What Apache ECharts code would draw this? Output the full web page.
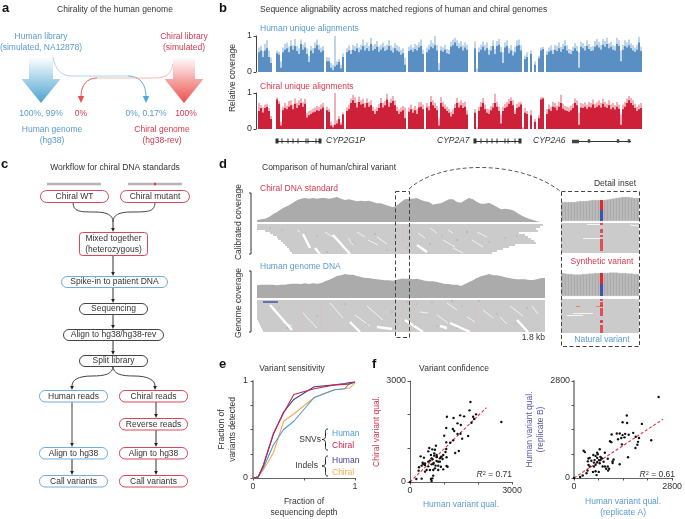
<!DOCTYPE html>
<html><head><meta charset="utf-8">
<style>html,body{margin:0;padding:0;background:#fff}#c{width:685px;height:519px}</style>
<script src="https://cdn.jsdelivr.net/npm/echarts@6/dist/echarts.min.js"></script>
</head><body><div id="c"></div>
<script>
// ---------- Panel b: coverage tracks (192 bins)
const humanDark=[.55,.6,.42,.6,.66,.42,.25, 0,0, .52,.48,.12,.55,.62,.66,.55,.72,.62,.72,.58,.5,.78,.62,.68,.5,.28,.6,.52,.66,.74,.62,.55,.6, 0, .3,.3,.12,.05,.15,.2,.28,.1,.42, 0, .55,.6,.5,.62,.58,.66,.55,.62,.72,.6,.66,.58,.78,.6,.64,.7,.56,.62,.68,.58,.62,.72,.6,.54,.66,.6,.56,.48,.52, .2,0, .58,.62,.56,.64,.6,.68,.72,.5, 0, .55,.62,.7,.66,.74,.6, .05, .6,.56,.62,.52,.5,.7,.74,.82,.72,.66,.7,.6,.68,.62, 0,0,0, .65,0, .55,.62,.7,.6,.66,.48,.6,.72,.5,.72,.76,.55,.25,.68,.72,.52,.6,.46,.55,.72,.74,.6, 0, .36,.42, 0,.5,0,.2,0,.38,.6,.64,0, .48,.56,.6,.5,.62,.58,.66,.56,.64,.72,.6,.52,.5,.58,.66,.58, .12, .7,.66,.6,.72,.64,.58,.6,.7,.74,.68,.62,.76,.7,.78,.66,.7,.62,.6,.78,.72,.3,.62,.72,.68,.74,.66,.6,.56,.62,.82,.58];
const humanLight=[.68,.72,.58,.78,.88,.6,.4, 0,0, .6,.56,.3,.68,.78,.82,.7,.88,.74,.92,.72,.66,.9,.76,.82,.66,.45,.72,.66,.82,.9,.76,.68,.72, 0, .42,.4,.25,.2,1,.3,.36,.2,.52, 0, .66,.74,.62,.76,.72,.8,.68,.76,.9,.74,.82,.72,.95,.74,.78,.86,.7,.76,.82,.72,.76,.88,.74,.68,.8,.74,.7,.62,.66, .4,0, .7,.76,.68,.78,.74,.82,.9,.62, 0, .68,.76,.88,.8,1,.74, .25, .72,.68,.76,.64,.62,.84,.9,.95,.88,.8,.86,.74,.82,.76, 0,0,0, .85,.1, .68,.76,.85,.74,.82,.62,.72,.88,.64,.86,.92,.7,.55,.82,.88,.66,.74,.6,.7,.88,.9,.74, 0, .46,.55, 0,.6,0,.3,0,.45,.68,.7,0, .58,.68,.74,.62,.76,.72,.82,.7,.78,.88,.74,.64,.62,.7,.8,.72, .55, .84,.8,.72,.88,.78,.7,.72,.86,.92,.84,.76,.92,.86,.95,.8,.84,.74,.72,.95,.88,.6,.76,.88,.82,.9,.8,.74,.68,.76,.98,.7];
const chiralDark=[.5,.58,.46,.58,.62,.5,.28, 0,0, .82,.7,.1,.52,.58,.55,.62,.66,.55,.7,.58,.66,.72,.62,.7,.32,.38,.42,.46,.48,.52,.5,.55,.6, 0, .52,.48,.1,.05,.12,.15,.28,.12,.4, 0, .5,.55,.72,.8,.72,.6,.75,.68,.7,.6,.72,.62,.66,.5,.42,.5,.58,.72,.6,.66,.82,.62,.72,.78,.66,.5,.42,.48,.52, .3,0, .48,.55,.45,.52,.42,.6,.62,.55, 0, .6,.52,.75,.66,.58,.52, .1, .72,.62,.56,.5,.45,.35,.42,.58,.72,.6,.66,.58,.62,.4, 0,0,0, .45,0, .5,.62,.72,.55,.45,.42,.52,.6,.72,.62,.5,.15,.5,.58,.62,.7,.78,.66,.42,.58,.62,.68, 0, .45,.42, 0,.38,0,.2,0,.3,.82,.85,0, .42,.55,.5,.62,.6,.52,.62,.72,.56,.52,.5,.48,.52,.58,.72,.66, .12, .6,.58,.62,.56,.62,.6,.68,.58,.62,.66,.6,.7,.62,.58,.66,.55,.6,.54,.62,.56,.12,.55,.62,.72,.8,.72,.66,.58,.5,.55,.58];
const chiralLight=[.72,.66,.6,.68,.7,.58,.36, 0,0, .88,.78,.2,.62,.72,.65,.78,.8,.68,.85,.72,.8,.85,.74,.84,.45,.5,.52,.56,.6,.64,.62,.68,.72, 0, .62,.56,.2,.12,1,.24,.36,.18,.46, 0, .6,.68,.85,.95,.88,.74,.9,.8,.84,.72,.85,.75,.8,.62,.54,.6,.7,.86,.72,.78,.98,.75,.85,.92,.8,.62,.54,.6,.64, .6,0, .6,.68,.56,.64,.55,.74,.76,.68, 0, .72,.64,.92,.8,.72,.64, .3, .88,.76,.68,.62,.56,.48,.55,.7,.86,.74,.8,.72,.76,.52, 0,0,0, .55,.05, .62,.75,.86,.68,.56,.55,.64,.72,.98,.76,.62,.4,.62,.7,.75,.84,.88,.8,.52,.7,.74,.74, .05, .58,.5, 0,.52,0,.28,0,.38,.88,.88,0, .55,.68,.62,.76,.72,.65,.76,.95,.7,.64,.62,.6,.65,.7,.85,.8, .45, .72,.7,.74,.68,.75,.72,.82,.7,.74,.8,.72,.84,.75,.7,.8,.68,.72,.66,.75,.68,.4,.68,.75,.85,.92,.86,.8,.7,.62,.68,.72];
const geneSpines=[[19,63],[217,262],[314,373]];
const geneTicks=[24,30,35,40,48,50,58,223,229,234,239,247,250,257];
const geneArrows=[19,62,217,262];
const geneExons=[331,360,371];
const geneThick=[[314,321]];
// ---------- Panel d: coverage depth at 4-px steps, read piles
const covChiral=[5,8,10,15,23,30,38,45,50,58,65,70,72,70,72,70,72,72,70,72,75,70,66,68,65,62,64,62,64,60,56,56,52,48,44,50,60,68,70,70,72,66,62,60,52,55,56,62,68,68,60,58,65,72,68,60,55,55,58,52,45,38,40,38,35,28,20,14,10,6,2,0,0];
const covHuman=[38,40,40,40,40,38,40,40,42,43,43,42,44,42,44,43,44,50,55,60,66,68,72,70,70,66,63,60,60,58,56,55,53,53,52,55,58,58,58,56,58,55,52,50,50,48,45,42,42,40,40,36,42,48,53,60,65,68,72,68,68,66,62,60,58,56,56,56,54,54,56,60,60];
const pile1Starts=[0,0,0,8,13,16,20,21,24,26,28,30,32,33,35];
const pile1Ends=[286,283,279,281,262,268,271,274,277,279,258,252,246,240,235];
const pile2Starts=[0,0,0,0,0,0,0,0,0,0,1,2,3,4,5,6];
const pile2Ends=[288,288,288,288,288,288,288,288,288,288,288,288,288,288,288,288];
const pile1Thin=[[40,3,43,4],[68,4,76,6.5],[100,4,108,6.5],[111,8,121,10.5],[91,7,96,10.5],[120,6.5,130,10],[173,2,180,4.5],[186,8,198,11.5],[191,3,196,4.5],[220,4,230,6.5],[196,12,206,14.5],[215,8,226,11.5],[161,4.5,168,7]];
const pile1Thick=[[46,5,53,12],[58,12,63,15],[76,5.5,93,15],[160,10.5,170,14]];
const pile2Thin=[[45,6,60,14],[73,1.5,86,9],[98,7.5,113,13],[110,3,126,10],[26,11,35,13],[180,7.5,191,11.5],[163,6,171,6.5],[210,8.5,218,11],[243,8.5,250,12],[226,5,236,9],[190,1.5,200,5],[253,3,266,8],[275,3,281,7]];
const pile2Thick=[[13,2.5,35,15],[93,11,103,16],[120,13.5,135,14.5],[148,10,166,16],[193,11.5,213,16],[260,10,271,16],[183,13,190,14]];
const pile1Dots=[[25,3],[70,14],[13,2],[95,9],[118,5],[150,12],[185,6],[210,4],[232,9],[248,7],[173,10],[60,6],[130,13],[200,8],[260,6]];
const pile2Dots=[[22,4],[60,8],[88,2],[110,12],[135,6],[175,1],[205,3],[222,0.5],[240,7],[258,12],[270,4],[180,13],[200,14],[30,14],[150,1],[160,2],[195,0.5],[140,12]];
const pile2Bar=[[6,1,21,1]];
const variantsChiral=[145];
const variantsHuman=[45,63,145,157,219];
// ---------- Panel d inset
const insetCov1=[19,19,19,19,19,19.5,20,20,20,20.5,21,21,21,0,21,21.5,22,22.5,23,23.5,24,24,24,23.5,23,23];
const insetCov2=[23,22.5,22,22,21.5,21.5,21.5,22,22,22.5,22.5,23,23,0,23,23,23.5,23.5,23.5,23,23,23,22.5,22.5,22,22];
const insetRef1=[0,0,0,0,0,0,0,0,0,0,0,0,0,11,0,0,0,0,0,0,0,0,0,0,0,0];
const insetAlt1=[0,0,0,0,0,0,0,0,0,0,0,0,0,10,0,0,0,0,0,0,0,0,0,0,0,0];
const insetRef2=[0,0,0,0,0,0,0,0,0,0,0,0,0,12,0,0,0,0,0,0,0,0,0,0,0,0];
const insetAlt2=[0,0,0,0,0,0,0,0,0,0,0,0,0,11,0,0,0,0,0,0,0,0,0,0,0,0];
const inset1Reads=[0.5,3.5,4.5,6.5,8.5,9.5,10.5,11.5,12.5,13.5];
const inset2Reads=[0.5,2,3,3.5,5,6,7,8,11,11.5,13.5,14.5,15.5,16.5];
const inset1Gaps=[[26,0.8,39,0.8],[69,1,78,1.5],[22,7.5,39,7.5]];
const inset2Gaps=[[12,7,32,7],[6,8,22,8]];
const inset2Orange=[[15,3.5,19,3.5],[35,3.5,39,3.5]];
// ---------- Panel e
const depth=[0,.05,.1,.2,.3,.4,.6,.8,.9,.95,1];
const lineNavy=[0,.01,.12,.45,.68,.81,.94,.96,.975,.985,.99];
const lineRed=[0,.01,.13,.46,.67,.86,.92,.96,.965,.97,.99];
const lineBlue=[0,.01,.1,.34,.5,.585,.83,.91,.92,.98,.985];
const lineOrange=[0,.01,.08,.26,.585,.66,.83,.91,.92,.93,.98];
// ---------- Panel f
const qualChiral=[[0,0],[2687,1782],[1778,2376],[1750,2128],[1944,2010],[1475,1980],[1592,1950],[1085,1940],[1280,1900],[1856,1940],[1886,1871],[1807,1762],[1397,1742],[1495,1693],[1065,1604],[1260,1574],[1300,1515],[1397,1425],[1485,1435],[1710,1366],[1006,1376],[1534,1287],[1270,1237],[1065,1178],[1182,1168],[762,1079],[567,1010],[655,970],[537,910],[733,960],[313,762],[410,723],[1436,920],[1329,861],[1065,980],[1045,891],[977,802],[928,752],[879,703],[830,604],[782,802],[713,782],[635,703],[586,634],[537,604],[440,554],[391,535],[264,436],[254,337],[186,89],[342,99],[635,30],[684,188],[655,109],[616,89],[684,356],[586,356],[440,307],[488,356],[752,485],[830,485],[909,455],[977,376],[1075,475],[1104,455],[879,604],[957,683],[1075,733],[782,624],[694,564],[635,525],[537,465],[440,505],[371,574],[342,485],[733,406],[830,356],[655,683],[616,802],[713,851],[684,535],[791,742],[909,742]];
const qualRep=[[0,0],[2414,2338],[1506,1802],[1386,1608],[1515,1589],[1937,1562],[1074,1257],[1221,1284],[1304,1284],[1689,1303],[1386,1238],[1460,1275],[1561,1247],[1441,1173],[1258,1118],[1349,1155],[1028,1062],[1065,1035],[1368,970],[1763,1192],[1854,1155],[1827,1044],[1808,961],[1753,868],[2203,1090],[1542,600],[275,785],[312,748],[551,665],[661,730],[679,684],[734,832],[881,730],[413,564],[450,582],[615,638],[753,610],[799,564],[1129,536],[1102,480],[395,480],[496,499],[569,444],[661,453],[707,517],[845,471],[964,554],[881,333],[964,333],[918,268],[1001,268],[973,213],[1304,397],[1102,434],[817,333],[615,379],[569,333],[450,333],[413,379],[386,213],[358,139],[542,176],[615,194],[707,176],[643,83],[248,74],[174,28],[734,425],[771,582],[753,517],[661,582],[588,517]];
const fitChiral=[[0,0],[2250,2210]];
const fitRep=[[0,0],[2543,1700]];
// ---------- Text
const flowLabels=['Chiral WT','Chiral mutant','Mixed together\n(heterozygous)','Spike-in to patient DNA','Sequencing','Align to hg38/hg38-rev','Split library','Human reads','Chiral reads','Reverse reads','Align to hg38','Align to hg38','Call variants','Call variants'];

// ---------- Style constants and layout
const FF='"Liberation Sans",Arial,sans-serif', FS=8.5;
const BLUE='#5B9BCF', RED='#D4384F', DARK='#333', NAVY='#5A5AA8';
const grids=[],xAxes=[],yAxes=[],series=[],G=[];
function hiddenAxis(o){return Object.assign({show:false,type:'value'},o);}
function addGrid(l,t,w,h,x,y){grids.push({left:l,top:t,width:w,height:h,containLabel:false});
  const i=grids.length-1;xAxes.push(Object.assign({gridIndex:i},x));yAxes.push(Object.assign({gridIndex:i},y));return i;}
function addLines(i,segs,color,width,extra){series.push(Object.assign({type:'lines',coordinateSystem:'cartesian2d',xAxisIndex:i,yAxisIndex:i,polyline:false,silent:true,animation:false,
  lineStyle:Object.assign({color,width,opacity:1,curveness:0},extra||{}),effect:{show:false},
  data:segs.map(s=>({coords:[[s[0],s[1]],[s[2],s[3]]]}))}));}
function addScatter(i,pts,color,size,symbol){series.push({type:'scatter',xAxisIndex:i,yAxisIndex:i,data:pts,symbol:symbol||'circle',symbolSize:size,itemStyle:{color,opacity:1},silent:true,animation:false});}

// Panel b tracks
function track(top,dark,light,cDark,cLight){
  const cats=dark.map((_,k)=>k);
  const i=addGrid(258,top,384,36,{type:'category',data:cats,show:false,boundaryGap:true},{type:'value',min:0,max:1,interval:1,offset:2,
    axisLine:{show:true,lineStyle:{color:'#444',width:1}},axisTick:{show:true,length:2.5,lineStyle:{color:'#444'}},splitLine:{show:false},
    axisLabel:{fontSize:FS+.4,fontFamily:FF,color:DARK,margin:4}});
  series.push({type:'bar',xAxisIndex:i,yAxisIndex:i,data:light,barWidth:'100%',barGap:'-100%',itemStyle:{color:cLight},animation:false,silent:true});
  series.push({type:'bar',xAxisIndex:i,yAxisIndex:i,data:dark,barWidth:'100%',barGap:'-100%',itemStyle:{color:cDark},animation:false,silent:true});
}
track(36,humanDark,humanLight,'#5A8FC4','#BFD5EA');
track(93,chiralDark,chiralLight,'#CE2038','#EFB0B9');

// Gene models
const gi=addGrid(258,136,384,10,hiddenAxis({min:0,max:384}),hiddenAxis({min:0,max:1}));
addLines(gi,geneSpines.map(s=>[s[0],.5,s[1],.5]),'#333',1);
addLines(gi,geneThick.map(s=>[s[0],.5,s[1],.5]),'#444',3.4);
addScatter(gi,geneTicks.map(v=>[v,.5]),'#333',[1,5],'rect');
addScatter(gi,geneExons.map(v=>[v,.5]),'#444',[2.5,3.5],'rect');
addScatter(gi,geneArrows.map(v=>[v,.5]),'#333',[3,5],'rect');

// Panel d main
const xMain=hiddenAxis({min:0,max:288});
function covGrid(top,h,values,variants,maxv){
  const i=addGrid(257,top,288,h,xMain,hiddenAxis({min:0,max:maxv}));
  series.push({type:'line',xAxisIndex:i,yAxisIndex:i,data:values.map((v,k)=>[k*4,v]),showSymbol:false,lineStyle:{width:0},areaStyle:{color:'#ABABAB',opacity:1},animation:false,silent:true});
  variants.forEach(v=>{const d=values[Math.round(v/4)];
    addLines(i,[[v,0,v,d*.5]],'#7E8DC6',1,{opacity:.8});addLines(i,[[v,d*.5,v,d]],'#D9807A',1,{opacity:.8});});
}
function pileGrid(top,h,starts,ends,thin,thick,dots,variants){
  const i=addGrid(257,top,288,h,xMain,hiddenAxis({min:0,max:starts.length,inverse:true}));
  addLines(i,starts.map((s,k)=>[s,k+.5,ends[k],k+.5]),'#CBCBCB',2.2);
  addLines(i,thin,'#F2F2F2',1);addLines(i,thick,'#fff',2.4);
  variants.forEach(v=>addLines(i,[[v,0,v,starts.length]],'#E8B4AE',.9,{type:[2,2],opacity:.75}));
  addScatter(i,dots.filter((_,k)=>k%3==0),'#E2A06A',1.2,'rect');
  addScatter(i,dots.filter((_,k)=>k%3==1),'#8C95CC',1.2,'rect');
  addScatter(i,dots.filter((_,k)=>k%3==2),'#E09292',1.2,'rect');
  return i;
}
covGrid(197,25,covChiral,variantsChiral,75);
pileGrid(224,30,pile1Starts,pile1Ends,pile1Thin,pile1Thick,pile1Dots,variantsChiral);
covGrid(273,25,covHuman,variantsHuman,75);
const p2=pileGrid(300,32,pile2Starts,pile2Ends,pile2Thin,pile2Thick,pile2Dots,variantsHuman);
addLines(p2,pile2Bar,'#3D55AE',1.6);

// Inset
function insetCov(top,cov,ref,alt){
  const cats=cov.map((_,k)=>k);
  const i=addGrid(561,top,78,24,{type:'category',data:cats,show:false},hiddenAxis({min:0,max:24}));
  const mk=(d,c,w)=>series.push({type:'bar',stack:'s'+i,xAxisIndex:i,yAxisIndex:i,data:d,barWidth:'100%',itemStyle:{color:c,borderColor:'#C6C6C6',borderWidth:w},animation:false,silent:true});
  mk(cov,'#ABABAB',.3);mk(ref,'#3F55AD',0);mk(alt,'#E3272E',0);
}
function insetPile(top,h,rows,reds,gaps,extra){
  const i=addGrid(561,top,78,h,hiddenAxis({min:0,max:78}),hiddenAxis({min:0,max:rows,inverse:true}));
  addLines(i,[[0,rows/2,78,rows/2]],'#CBCBCB',h);
  addLines(i,gaps,'#F4F4F4',1.2);
  if(extra)addLines(i,extra,'#E2873E',1.2);
  addScatter(i,reds.map(r=>[40.5,r]),'#E3272E',[3,1.5],'rect');
}
insetCov(197,insetCov1,insetRef1,insetAlt1);
insetPile(223,30,15,inset1Reads,inset1Gaps);
insetCov(272,insetCov2,insetRef2,insetAlt2);
insetPile(299,34,17,inset2Reads,inset2Gaps,inset2Orange);

// Panel e / f axes
function plotAxis(name,interval,max,color,gap,thick,labelMargin){return {type:'value',min:0,max,interval,name,nameLocation:'middle',nameGap:gap,
  nameTextStyle:{fontSize:FS,fontFamily:FF,color,lineHeight:11},
  axisLine:{show:true,onZero:false,lineStyle:{color:thick?'#9A9A9A':'#666',width:thick?2:1}},axisTick:{show:true,length:2.5,lineStyle:{color:'#555'}},splitLine:{show:false},
  axisLabel:{fontSize:FS+.4,fontFamily:FF,color:DARK,margin:labelMargin,formatter:v=>(v===0||v===max)?String(v):'',showMinLabel:true,showMaxLabel:true,hideOverlap:false}};}
const ei=addGrid(253,381,102,102,plotAxis('Fraction of\nsequencing depth',.5,1,DARK,18,false,4),plotAxis('Fraction of\nvariants detected',.25,1,DARK,15,true,5));
[[lineOrange,'#F5AB4C'],[lineBlue,'#4E9BD2'],[lineNavy,'#44438F'],[lineRed,'#C9264C']].forEach(p=>{
  series.push({type:'line',xAxisIndex:ei,yAxisIndex:ei,data:depth.map((d,k)=>[d,p[0][k]]),showSymbol:false,lineStyle:{color:p[1],width:1.1},animation:false,silent:true,z:5});});
function fPanel(left,width,max,tickStep,pts,fit,xn,yn,yc,xgap,ygap,thick){
  const i=addGrid(left,381,width,101,plotAxis(xn,tickStep,max,BLUE,xgap,false,4),plotAxis(yn,tickStep,max,yc,ygap,thick,4));
  series.push({type:'line',xAxisIndex:i,yAxisIndex:i,data:fit,showSymbol:false,lineStyle:{color:'#E5343D',width:1.1,type:[3,2]},animation:false,silent:true,z:3});
  addScatter(i,pts,'#111',2.4);series[series.length-1].z=4;
}
fPanel(410,102,3000,1000,qualChiral,fitChiral,'Human variant qual.','Chiral variant qual.',RED,17.5,27,false);
fPanel(574,102,2800,700,qualRep,fitRep,'Human variant qual.\n(replicate A)','Human variant qual.\n(replicate B)',NAVY,18,25,true);

// ---------- Graphic helpers
function T(text,x,y,o){o=o||{};const e={type:'text',x,y,z:50,silent:true,style:Object.assign({text,fontSize:FS,fontFamily:FF,fill:DARK,align:'center',verticalAlign:'middle',lineHeight:11},o.s||{})};if(o.rot)e.rotation=o.rot;G.push(e);}
const L=(text,x,y,c)=>T(text,x,y,{s:{align:'left',fill:c||DARK}});
const C=(text,x,y,c)=>T(text,x,y,{s:{fill:c||DARK}});
const letter=(t,x,y)=>T(t,x,y,{s:{fontSize:13,fontWeight:'bold',fill:'#111',align:'left',fontFamily:'"Liberation Sans",Arial'}});
function stroke(type,shape,color,width,extra){G.push({type,shape,z:40,silent:true,style:Object.assign({stroke:color,lineWidth:width,fill:null},extra||{})});}
function tri(x,y,color,w,h){G.push({type:'polygon',z:41,silent:true,shape:{points:[[x-w,y-h],[x+w,y-h],[x,y]]},style:{fill:color}});}
function bez(a,b,c,d,color,width,extra){stroke('bezierCurve',{x1:a[0],y1:a[1],cpx1:b[0],cpy1:b[1],cpx2:c[0],cpy2:c[1],x2:d[0],y2:d[1]},color,width,extra);}
function line(a,b,color,width,extra){stroke('line',{x1:a[0],y1:a[1],x2:b[0],y2:b[1]},color,width,extra);}

letter('a',2,8);letter('b',219,8);letter('c',1,164);letter('d',219,164);letter('e',219,364);letter('f',372,364);

// Panel a
C('Chirality of the human genome',115,10);
C('Human library\n(simulated, NA12878)',41,42.5,BLUE);
C('Chiral library\n(simulated)',184,42.5,RED);
function bigArrow(cx,hw,c,top){G.push({type:'polygon',z:30,silent:true,shape:{points:[[cx-hw,57],[cx+hw,57],[cx+hw,79],[cx+19.5,79],[cx,103],[cx-19.5,79],[cx-hw,79]]},
  style:{fill:new echarts.graphic.LinearGradient(0,0,0,1,[{offset:0,color:top},{offset:1,color:c}])}});}
bigArrow(41,12,'#4AA3D0','rgba(255,255,255,1)');
bigArrow(184,11,'#EB4F48','rgba(255,255,255,1)');
bez([53,57],[55,70],[62,76],[72,76],'#A9D8EC',1);line([72,76],[128,76],'#A9D8EC',1);bez([128,76],[140,76],[146,84],[146,97],'#5CB0DA',1);
tri(146,103,'#4FA8D8',3.2,7);
bez([173,64],[171,74],[166,78],[155,78],'#F6B9B4',1);line([155,78],[97,78],'#F6B9B4',1);bez([97,78],[87,78],[81,85],[81,97],'#EA5A52',1);
tri(81,103,'#E8504A',3.2,7);
C('100%, 99%',41,113.5,BLUE);C('0%',81,114,RED);C('0%, 0.17%',146,113.5,BLUE);C('100%',186,114,RED);
C('Human genome\n(hg38)',52,135.5,BLUE);C('Chiral genome\n(hg38-rev)',162,135.5,RED);

// Panel b text
L('Sequence alignability across matched regions of human and chiral genomes',260,10);
L('Human unique alignments',260,29,BLUE);L('Chiral unique alignments',260,87,RED);
T('Relative coverage',233,78,{rot:Math.PI/2});
const it={s:{fontStyle:'italic',align:'left'}};
T('CYP2G1P',326,141,it);T('CYP2A7',437,141,it);T('CYP2A6',533,141,it);

// Panel c
C('Workflow for chiral DNA standards',115,168);
line([47,184],[101,184],'#B5B5B5',2.5);line([128,184],[182,184],'#B5B5B5',2.5);line([154,184],[156,184],'#E0383E',2.5);
const RB='#D6495B',BB='#74ACD8',DB='#444';
const flowBoxes=[[40,190,68,12,RB,6],[120,190,69,12,RB,6],[79,232,68,23,RB,3],[61,276,106,11,BB,5.5],[79,303,68,11,DB,5.5],[63,329,100,11,DB,5.5],[79,355,68,11,DB,5.5],[39,390,68,11.5,BB,5.5],[119,390,68,11.5,RB,5.5],[119,418,68,11.5,RB,5.5],[39,447,68,11.5,BB,5.5],[119,447,68,11.5,RB,5.5],[39,475,68,11.5,BB,5.5],[119,475,68,11.5,RB,5.5]];
flowBoxes.forEach((b,k)=>{G.push({type:'rect',z:42,silent:true,shape:{x:b[0]+.5,y:b[1]+.5,width:b[2],height:b[3],r:b[5]},style:{stroke:b[4],fill:'#fff',lineWidth:1}});
  C(flowLabels[k],b[0]+b[2]/2+.5,b[1]+b[3]/2+.5,'#333');});
const A=(x,y1,y2,c,w)=>{line([x,y1],[x,y2-3],c||'#333',w||1);tri(x,y2,'#222',1.8,4);};
bez([73,202],[73,212],[80,212],[95,212],'#444',1);bez([155,202],[155,212],[148,212],[131,212],'#444',1);
bez([95,212],[107,212],[113,215],[113,222],'#444',1);bez([131,212],[119,212],[113,215],[113,222],'#444',1);A(113,222,232);
A(113,255,276);A(113,287,303);A(113,314,329);A(113,340,355);
bez([113,366],[113,374],[105,376],[92,376],'#444',1);bez([92,376],[78,376],[72,380],[72,386],'#444',1);tri(72,390,'#222',1.8,4);
bez([113,366],[113,374],[121,376],[134,376],'#444',1);bez([134,376],[148,376],[155,380],[155,386],'#444',1);tri(155,390,'#222',1.8,4);
A(72,401,447,'#8A8A8A',1.6);A(72,459,475,'#666',1.4);A(156,401,418);A(156,429,447,'#555',1.2);A(156,459,475,'#555',1.2);

// Panel d text and frames
L('Comparison of human/chiral variant',262,168);
L('Chiral DNA standard',260,189,RED);L('Human genome DNA',260,267,BLUE);
T('Calibrated coverage',239,222,{rot:Math.PI/2});T('Genome coverage',239,303,{rot:Math.PI/2});
const bracket=(x,y0,y1)=>stroke('polyline',{points:[[x-2,y0],[x,y0],[x,y1],[x-2,y1]]},'#333',1);
bracket(251,193,254);bracket(251,271,332);
T('1.8 kb',545,338,{s:{align:'right'}});
const dash={lineDash:[4,2.5]};
G.push({type:'rect',z:45,silent:true,shape:{x:395.5,y:191.5,width:14,height:146},style:{stroke:'#444',fill:null,lineWidth:1,lineDash:[4,2.5]}});
G.push({type:'rect',z:45,silent:true,shape:{x:561.5,y:191.5,width:78,height:155},style:{stroke:'#444',fill:null,lineWidth:1,lineDash:[4,2.5]}});
bez([409,189],[440,160],[520,160],[560,191],'#444',.9,dash);
C('Detail inset',615,184);C('Synthetic variant',602,262,RED);C('Natural variant',602,340,BLUE);

// Panel e text
C('Variant sensitivity',292,369);
function brace(x,y0,y1){const m=(y0+y1)/2;
  bez([x+4,y0],[x+1,y0],[x+1.5,y0+2],[x+1.5,y0+4],'#222',1);line([x+1.5,y0+4],[x+1.5,m-3],'#222',1);bez([x+1.5,m-3],[x+1.5,m-1],[x,m],[x-2,m],'#222',1);
  bez([x-2,m],[x,m],[x+1.5,m+1],[x+1.5,m+3],'#222',1);line([x+1.5,m+3],[x+1.5,y1-4],'#222',1);bez([x+1.5,y1-4],[x+1.5,y1-2],[x+1,y1],[x+4,y1],'#222',1);}
T('SNVs',321,440,{s:{align:'right'}});brace(324,429,450);L('Human',332,434,'#4E9BD2');L('Chiral',332,446,'#C9264C');
T('Indels',318,466,{s:{align:'right'}});brace(324,456,476);L('Human',332,461,'#44438F');L('Chiral',332,473,'#F5AB4C');

// Panel f text
C('Variant confidence',454,369);
const r2=(v,x,y)=>G.push({type:'text',x,y,z:50,silent:true,style:{text:'{i|R}{s|2}{n| = '+v+'}',align:'right',verticalAlign:'middle',fontFamily:FF,fontSize:FS,fill:DARK,
  rich:{i:{fontStyle:'italic',fontSize:FS,fontFamily:FF},s:{fontSize:5.5,fontFamily:FF,verticalAlign:'top'},n:{fontSize:FS,fontFamily:FF}}}});
r2('0.71',512,475);r2('0.61',675,475);

const chart=echarts.init(document.getElementById('c'),null,{renderer:'canvas'});
chart.setOption({animation:false,backgroundColor:'#fff',grid:grids,xAxis:xAxes,yAxis:yAxes,series,graphic:{elements:G}});
</script></body></html>
